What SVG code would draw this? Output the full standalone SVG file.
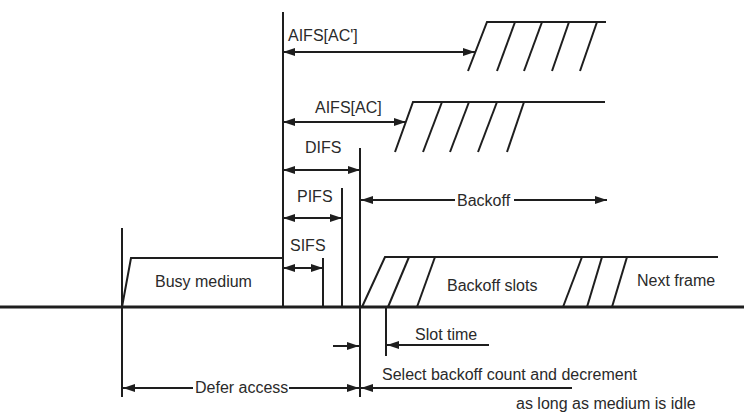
<svg xmlns="http://www.w3.org/2000/svg" width="744" height="412" viewBox="0 0 744 412">
<defs>
<marker id="ah" viewBox="0 0 12 8" refX="12" refY="4" markerWidth="12" markerHeight="8" markerUnits="userSpaceOnUse" orient="auto-start-reverse">
<path d="M0,0 L12,4 L0,8 Z" fill="#1e1e1e"/>
</marker>
<style>
.ln{stroke:#1e1e1e;stroke-width:2;fill:none}
.base{stroke:#1e1e1e;stroke-width:3;fill:none}
.ar{stroke:#1e1e1e;stroke-width:2;fill:none;marker-end:url(#ah)}
.ar2{stroke:#1e1e1e;stroke-width:2;fill:none;marker-start:url(#ah);marker-end:url(#ah)}
.arS{stroke:#1e1e1e;stroke-width:2;fill:none;marker-start:url(#ah)}
text{font-family:"Liberation Sans",Arial,sans-serif;font-size:16px;fill:#2a2a2a}
</style>
</defs>
<rect width="744" height="412" fill="#ffffff"/>
<g id="timeline">
<line class="base" x1="0" y1="307" x2="744" y2="307"/>
<line class="ln" x1="122" y1="228" x2="122" y2="397"/>
<line class="ln" x1="283" y1="12" x2="283" y2="307"/>
<line class="ln" x1="323" y1="258" x2="323" y2="307"/>
<line class="ln" x1="342" y1="188" x2="342" y2="307"/>
<line class="ln" x1="360" y1="148" x2="360" y2="397"/>
<line class="ln" x1="386" y1="307" x2="386" y2="356"/>
</g>
<g id="busy-medium">
<polyline class="ln" points="122,307 131,258 283,258"/>
<text x="155" y="287">Busy medium</text>
</g>
<g id="aifs-ac-prime-slots">
<polyline class="ln" points="468,71 487,22 606,22"/>
<line class="ln" x1="497" y1="71" x2="515" y2="22"/>
<line class="ln" x1="524" y1="71" x2="542" y2="22"/>
<line class="ln" x1="552" y1="71" x2="569" y2="22"/>
<line class="ln" x1="580" y1="71" x2="597" y2="22"/>
</g>
<g id="aifs-ac-slots">
<polyline class="ln" points="395,152 413,102 605,102"/>
<line class="ln" x1="423" y1="152" x2="442" y2="102"/>
<line class="ln" x1="450" y1="152" x2="469" y2="102"/>
<line class="ln" x1="478" y1="152" x2="497" y2="102"/>
<line class="ln" x1="507" y1="152" x2="524" y2="102"/>
</g>
<g id="backoff-slots">
<polyline class="ln" points="362,307 385,257 718,257"/>
<line class="ln" x1="388" y1="307" x2="409" y2="257"/>
<line class="ln" x1="417" y1="307" x2="435" y2="257"/>
<line class="ln" x1="563" y1="307" x2="582" y2="257"/>
<line class="ln" x1="587" y1="307" x2="602" y2="257"/>
<line class="ln" x1="612" y1="307" x2="627" y2="257"/>
<text x="447" y="291">Backoff slots</text>
<text x="637" y="286">Next frame</text>
</g>
<g id="labels">
<text x="288" y="41">AIFS[AC']</text>
<text x="315" y="113">AIFS[AC]</text>
<text x="305" y="153">DIFS</text>
<text x="297" y="202">PIFS</text>
<text x="290" y="251">SIFS</text>
<text x="457" y="206">Backoff</text>
<text x="415" y="340">Slot time</text>
<text x="195" y="393">Defer access</text>
<text x="382" y="380">Select backoff count and decrement</text>
<text x="516" y="409">as long as medium is idle</text>
</g>
<g id="connectors">
<line class="ar2" x1="283" y1="52" x2="475" y2="52"/>
<line class="ar2" x1="283" y1="122" x2="406" y2="122"/>
<line class="ar2" x1="283" y1="170" x2="360" y2="170"/>
<line class="ar2" x1="283" y1="218" x2="342" y2="218"/>
<line class="ar2" x1="283" y1="268" x2="323" y2="268"/>
<line class="arS" x1="361" y1="200" x2="455" y2="200"/>
<line class="ar" x1="514" y1="200" x2="607" y2="200"/>
<line class="ar" x1="489" y1="345" x2="387" y2="345"/>
<line class="ar" x1="333" y1="346" x2="359" y2="346"/>
<line class="arS" x1="123" y1="388" x2="193" y2="388"/>
<line class="ar" x1="289" y1="388" x2="359" y2="388"/>
<line class="ar" x1="572" y1="388" x2="361" y2="388"/>
</g>
</svg>
